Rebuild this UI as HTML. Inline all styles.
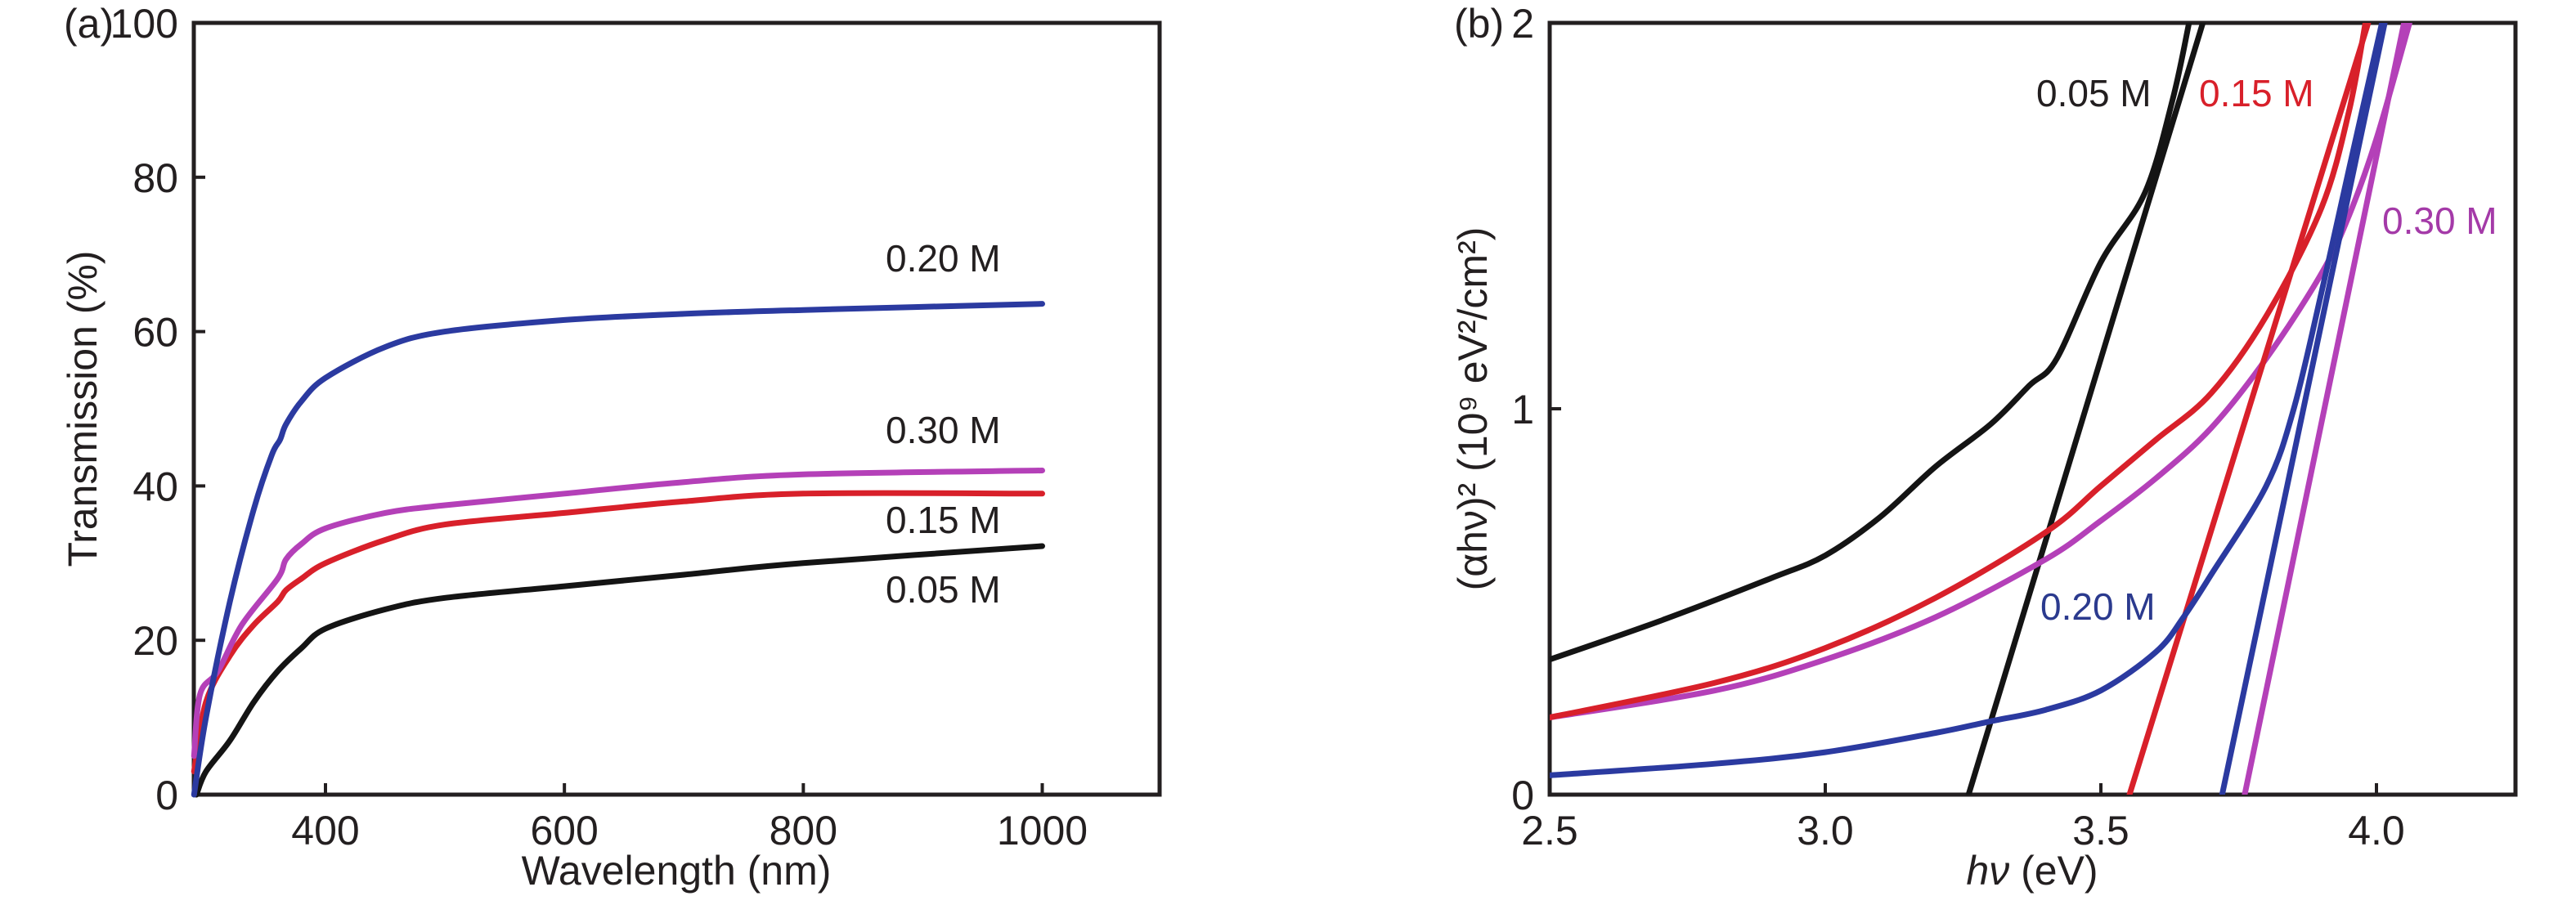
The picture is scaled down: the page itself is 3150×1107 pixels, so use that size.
<!DOCTYPE html>
<html><head><meta charset="utf-8"><style>
html,body{margin:0;padding:0;background:#fff;}
svg{display:block;font-family:"Liberation Sans",sans-serif;}
</style></head><body>
<svg id="chart" width="3150" height="1107" viewBox="0 0 3150 1107" xmlns="http://www.w3.org/2000/svg">
<g id="pa"></g>
<g id="pb"></g>
</svg>
<script>
// Panel (a) data
const aXTicks = [400, 600, 800, 1000];
const aYTicks = [0, 20, 40, 60, 80, 100];
const aBlueX = [290, 300, 320, 340, 355, 362, 367, 380, 400, 450, 500, 600, 700, 800, 1000];
const aBlueY = [0, 10, 25, 37, 44, 46, 48, 51, 54, 58, 60, 61.5, 62.3, 62.8, 63.6];
const aPinkX = [290, 295, 310, 330, 360, 367, 380, 400, 450, 500, 600, 700, 800, 1000];
const aPinkY = [5, 13, 16, 22, 28, 30.5, 32.5, 34.5, 36.5, 37.5, 39, 40.5, 41.5, 42];
const aRedX = [290, 300, 320, 340, 360, 367, 380, 400, 450, 500, 600, 700, 800, 1000];
const aRedY = [3, 12, 18, 22, 25, 26.5, 28, 30, 33, 35, 36.5, 38, 39, 39];
const aBlackX = [292, 300, 320, 340, 360, 380, 400, 450, 500, 600, 700, 800, 1000];
const aBlackY = [0, 3, 7, 12, 16, 19, 21.5, 24, 25.5, 27, 28.5, 30, 32.2];
const aLabels = ["0.20 M", "0.30 M", "0.15 M", "0.05 M"];

// Panel (b) data
const bXTicks = [2.5, 3.0, 3.5, 4.0];
const bXTickLabels = ["2.5", "3.0", "3.5", "4.0"];
const bYTicks = [0, 1, 2];
const bBlackX = [2.5, 2.7, 2.9, 3.0, 3.1, 3.2, 3.3, 3.37, 3.42, 3.5, 3.58, 3.63, 3.66];
const bBlackY = [0.35, 0.45, 0.56, 0.62, 0.72, 0.85, 0.96, 1.06, 1.13, 1.38, 1.56, 1.8, 2.0];
const bBlackFitX = [3.26, 3.685];
const bBlackFitY = [0, 2.0];
const bRedX = [2.5, 2.8, 3.0, 3.2, 3.4, 3.5, 3.6, 3.7, 3.8, 3.9, 3.95, 3.98];
const bRedY = [0.2, 0.29, 0.38, 0.51, 0.68, 0.8, 0.92, 1.04, 1.24, 1.52, 1.77, 2.0];
const bRedFitX = [3.552, 3.985];
const bRedFitY = [0, 2.0];
const bPinkX = [2.5, 2.8, 3.0, 3.2, 3.4, 3.5, 3.6, 3.7, 3.8, 3.9, 3.95, 4.0, 4.06];
const bPinkY = [0.2, 0.27, 0.35, 0.46, 0.61, 0.71, 0.82, 0.95, 1.13, 1.35, 1.5, 1.7, 2.0];
const bPinkFitX = [3.761, 4.05];
const bPinkFitY = [0, 2.0];
const bBlueX = [2.5, 2.8, 3.0, 3.2, 3.3, 3.4, 3.5, 3.6, 3.65, 3.7, 3.8, 3.85, 3.9, 3.95, 4.01];
const bBlueY = [0.05, 0.08, 0.11, 0.16, 0.19, 0.22, 0.27, 0.37, 0.46, 0.57, 0.8, 1.0, 1.3, 1.62, 2.0];
const bBlueFitX = [3.72, 4.015];
const bBlueFitY = [0, 2.0];
const bLabels = ["0.05 M", "0.15 M", "0.30 M", "0.20 M"];

const NS = "http://www.w3.org/2000/svg";
function mk(parent, tag, attrs, text) {
  const e = document.createElementNS(NS, tag);
  for (const k in attrs) e.setAttribute(k, attrs[k]);
  if (text !== undefined) e.textContent = text;
  parent.appendChild(e);
  return e;
}
const BLUE = "#2b3aa0", RED = "#d8202a", PINK = "#b440b8", BLACK = "#141414";

const aL = 237, aR = 1418, aT = 28, aB = 972;
const axa = v => 398 + (v - 400) * (1274.5 - 398) / 600;
const aya = v => aB - v * (aB - aT) / 100;
const pa = document.getElementById("pa");

function series(parent, xs, ys, sx, sy, color, name) {
  const P = xs.map((x, i) => [sx(x), sy(ys[i])]);
  let d = "M" + P[0][0].toFixed(1) + "," + P[0][1].toFixed(1);
  for (let i = 0; i < P.length - 1; i++) {
    const p0 = P[i - 1] || P[i], p1 = P[i], p2 = P[i + 1], p3 = P[i + 2] || P[i + 1];
    const c1 = [p1[0] + (p2[0] - p0[0]) / 6, p1[1] + (p2[1] - p0[1]) / 6];
    const c2 = [p2[0] - (p3[0] - p1[0]) / 6, p2[1] - (p3[1] - p1[1]) / 6];
    d += " C" + c1[0].toFixed(1) + "," + c1[1].toFixed(1) + " " + c2[0].toFixed(1) + "," + c2[1].toFixed(1) + " " + p2[0].toFixed(1) + "," + p2[1].toFixed(1);
  }
  const p = mk(parent, "path", {d: d, fill: "none", stroke: color, "stroke-width": 7, "stroke-linejoin": "round", "stroke-linecap": "round"});
  
  
  return p;
}

let e;
e = mk(pa, "rect", {x: aL, y: aT, width: aR - aL, height: aB - aT, fill: "none", stroke: "#231f20", "stroke-width": 5});


aXTicks.forEach(t => {
  const x = axa(t);
  e = mk(pa, "line", {x1: x, x2: x, y1: aB, y2: aB - 14, stroke: "#231f20", "stroke-width": 4});
  
  
  e = mk(pa, "text", {x: x, y: 1033, "text-anchor": "middle", "font-size": 50, fill: "#231f20"}, String(t));
  
  
});
aYTicks.forEach(t => {
  const y = aya(t);
  if (t > 0 && t < 100) {
    e = mk(pa, "line", {x1: aL, x2: aL + 14, y1: y, y2: y, stroke: "#231f20", "stroke-width": 4});
    
    
  }
  e = mk(pa, "text", {x: 218, y: y + 18, "text-anchor": "end", "font-size": 50, fill: "#231f20"}, String(t));
  
  
});
e = mk(pa, "text", {x: 78, y: 46, "font-size": 50, fill: "#231f20"}, "(a)");


e = mk(pa, "text", {x: 827, y: 1082, "text-anchor": "middle", "font-size": 50, fill: "#231f20"}, "Wavelength (nm)");


e = mk(pa, "text", {x: 0, y: 0, "text-anchor": "middle", "font-size": 50, fill: "#231f20", transform: "translate(118,500) rotate(-90)"}, "Transmission (%)");



series(pa, aBlackX, aBlackY, axa, aya, BLACK, "series-0.05M");
series(pa, aRedX, aRedY, axa, aya, RED, "series-0.15M");
series(pa, aPinkX, aPinkY, axa, aya, PINK, "series-0.30M");
series(pa, aBlueX, aBlueY, axa, aya, BLUE, "series-0.20M");
const aLabY = [332, 542, 652, 737];
aLabels.forEach((s, i) => {
  e = mk(pa, "text", {x: 1083, y: aLabY[i], "font-size": 46, fill: "#231f20"}, s);
  
  
});

const bL = 1895, bR = 3076, bT = 28, bB = 972;
const bxa = v => bL + (v - 2.5) * 674;
const bya = v => bB - v * (bB - bT) / 2;
const pb = document.getElementById("pb");
const clip = mk(pb, "clipPath", {id: "cb"});
mk(clip, "rect", {x: bL, y: bT, width: bR - bL, height: bB - bT});

e = mk(pb, "rect", {x: bL, y: bT, width: bR - bL, height: bB - bT, fill: "none", stroke: "#231f20", "stroke-width": 5});


bXTicks.forEach((t, i) => {
  const x = bxa(t);
  e = mk(pb, "line", {x1: x, x2: x, y1: bB, y2: bB - 14, stroke: "#231f20", "stroke-width": 4});
  
  
  e = mk(pb, "text", {x: x, y: 1033, "text-anchor": "middle", "font-size": 50, fill: "#231f20"}, bXTickLabels[i]);
  
  
});
bYTicks.forEach(t => {
  const y = bya(t);
  if (t === 1) {
    e = mk(pb, "line", {x1: bL, x2: bL + 14, y1: y, y2: y, stroke: "#231f20", "stroke-width": 4});
    
    
  }
  e = mk(pb, "text", {x: 1876, y: y + 18, "text-anchor": "end", "font-size": 50, fill: "#231f20"}, String(t));
  
  
});
e = mk(pb, "text", {x: 1778, y: 46, "font-size": 50, fill: "#231f20"}, "(b)");


e = mk(pb, "text", {x: 2485, y: 1082, "text-anchor": "middle", "font-size": 50, fill: "#231f20"});


mk(e, "tspan", {"font-style": "italic"}, "hν");
mk(e, "tspan", {}, " (eV)");
e = mk(pb, "text", {x: 0, y: 0, "text-anchor": "middle", "font-size": 50, fill: "#231f20", transform: "translate(1818,500) rotate(-90)"}, "(αhν)² (10⁹ eV²/cm²)");



const gb = mk(pb, "g", {"clip-path": "url(#cb)"});


series(gb, bBlackX, bBlackY, bxa, bya, BLACK, "curve-0.05M");
series(gb, bBlackFitX, bBlackFitY, bxa, bya, BLACK, "fit-0.05M");
series(gb, bPinkX, bPinkY, bxa, bya, PINK, "curve-0.30M");
series(gb, bPinkFitX, bPinkFitY, bxa, bya, PINK, "fit-0.30M");
series(gb, bRedX, bRedY, bxa, bya, RED, "curve-0.15M");
series(gb, bRedFitX, bRedFitY, bxa, bya, RED, "fit-0.15M");
series(gb, bBlueX, bBlueY, bxa, bya, BLUE, "curve-0.20M");
series(gb, bBlueFitX, bBlueFitY, bxa, bya, BLUE, "fit-0.20M");
const bLabX = [2490, 2689, 2913, 2495];
const bLabY = [130, 130, 286, 758];
const bLabC = ["#231f20", RED, "#a43aa8", "#2b3a8e"];
bLabels.forEach((s, i) => {
  e = mk(pb, "text", {x: bLabX[i], y: bLabY[i], "font-size": 46, fill: bLabC[i]}, s);
  
  
});
</script>
</body></html>
